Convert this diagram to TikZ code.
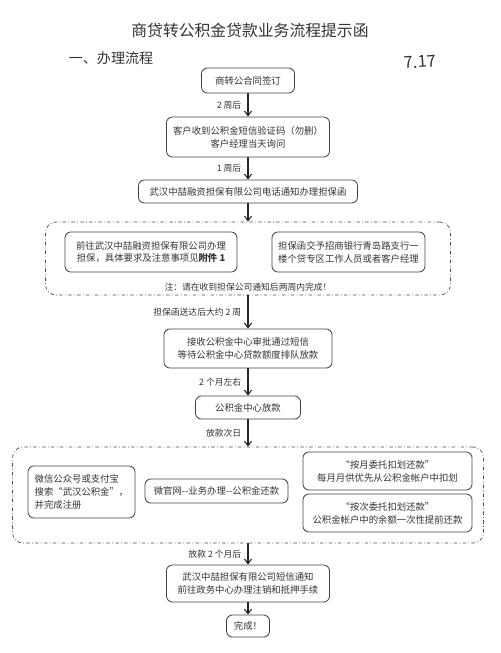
\documentclass[tikz,border=0pt]{standalone}
\usepackage{fontspec}
\setmainfont{Noto Sans CJK SC}
\usetikzlibrary{arrows.meta}
\begin{document}
\begin{tikzpicture}[x=0.03cm, y=-0.03cm,
    every node/.style={font=\fontsize{8}{11}\selectfont, text=black!80},
    stepbox/.style={draw=black!75, line width=0.7pt, rounded corners=5pt, align=center, inner sep=2pt},
    groupbox/.style={draw=black!70, line width=0.6pt, dash dot, rounded corners=9pt},
    flow/.style={-{Straight Barb[length=4pt,width=6pt]}, line width=0.9pt, black!85},
    lbl/.style={left, xshift=-2pt, font=\fontsize{7.5}{9}\selectfont}]
    \useasboundingbox (0,0) rectangle (500,653);
    \node (title) at (250,30) {\fontsize{13.5}{16}\selectfont 商贷转公积金贷款业务流程提示函};
    \node (head) at (111,58) {\fontsize{12}{14}\selectfont 一、办理流程};
    \node[rotate=4] (sign) at (420,62) {\fontsize{14}{16}\selectfont 7.17};
    \node[stepbox, minimum width=2.79cm, minimum height=0.75cm] (sign1) at (248,80.5) {商转公合同签订};
    \node[stepbox, minimum width=4.89cm, minimum height=1.2cm] (sms) at (248,137) {客户收到公积金短信验证码（勿删）\\客户经理当天询问};
    \node[stepbox, minimum width=6.57cm, minimum height=0.69cm] (call) at (248,191.5) {武汉中喆融资担保有限公司电话通知办理担保函};
    \node[groupbox, minimum width=12.15cm, minimum height=2.19cm] (guar) at (248,258.5) {};
    \node[stepbox, minimum width=5.16cm, minimum height=1.2cm] (guarL) at (151,252) {前往武汉中喆融资担保有限公司办理\\担保，具体要求及注意事项见\textbf{附件 1}};
    \node[stepbox, minimum width=4.59cm, minimum height=1.2cm] (guarR) at (348.5,252) {担保函交予招商银行青岛路支行一\\楼个贷专区工作人员或者客户经理};
    \node (note) at (248,287) {\fontsize{7.5}{9}\selectfont 注：请在收到担保公司通知后两周内完成！};
    \node[stepbox, minimum width=5.04cm, minimum height=1.17cm] (wait) at (248,348.5) {接收公积金中心审批通过短信\\等待公积金中心贷款额度排队放款};
    \node[stepbox, minimum width=3.15cm, minimum height=0.69cm] (loan) at (248,407.5) {公积金中心放款};
    \node[groupbox, minimum width=14.13cm, minimum height=2.88cm] (repay) at (248,495) {};
    \node[stepbox, align=left, minimum width=3.21cm, minimum height=1.56cm] (repayL) at (81.5,492) {微信公众号或支付宝\\搜索“武汉公积金”，\\并完成注册};
    \node[stepbox, minimum width=4.29cm, minimum height=0.72cm] (repayM) at (216.5,491) {微官网-{}-业务办理-{}-公积金还款};
    \node[stepbox, minimum width=5.07cm, minimum height=1.14cm] (monthly) at (387.5,471) {“按月委托扣划还款”\\每月月供优先从公积金帐户中扣划};
    \node[stepbox, minimum width=5.07cm, minimum height=1.14cm] (once) at (387.5,513) {“按次委托扣划还款”\\公积金帐户中的余额一次性提前还款};
    \node[stepbox, minimum width=4.89cm, minimum height=1.11cm] (cancel) at (248,583.5) {武汉中喆担保有限公司短信通知\\前往政务中心办理注销和抵押手续};
    \node[stepbox, minimum width=1.29cm, minimum height=0.66cm] (done) at (248,626) {完成！};
    \draw[flow] (sign1) -- (sms) node[midway, lbl] {2 周后};
    \draw[flow] (sms) -- (call) node[midway, lbl] {1 周后};
    \draw[flow] (call) -- (guar);
    \draw[flow] (guar) -- (wait) node[midway, lbl] {担保函送达后大约 2 周};
    \draw[flow] (wait) -- (loan) node[midway, lbl] {2 个月左右};
    \draw[flow] (loan) -- (repay) node[midway, lbl] {放款次日};
    \draw[flow] (repay) -- (cancel) node[midway, lbl] {放款 2 个月后};
    \draw[flow] (cancel) -- (done);
\end{tikzpicture}
\end{document}
